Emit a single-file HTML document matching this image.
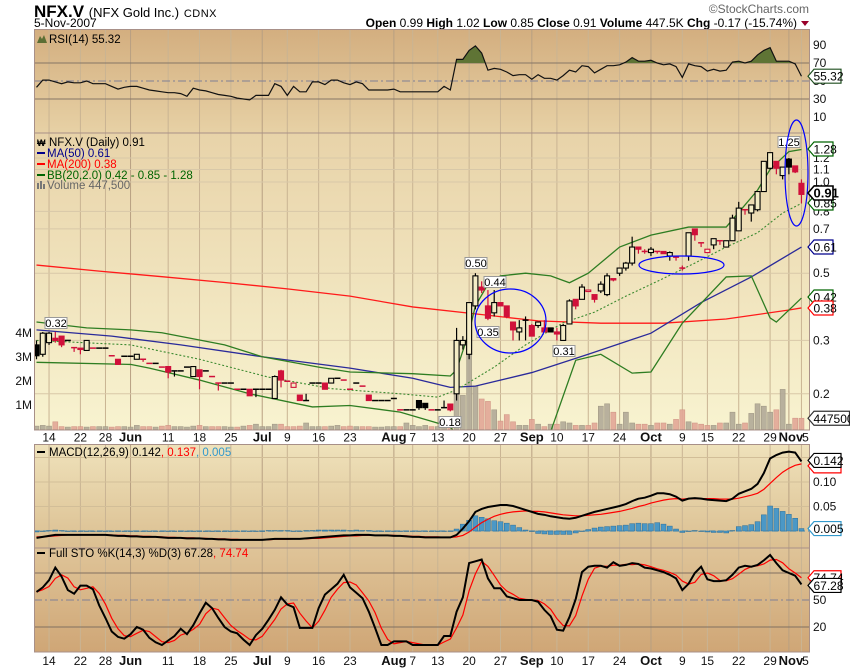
<!DOCTYPE html>
<html><head><meta charset="utf-8">
<style>
html,body{margin:0;padding:0;background:#fff;}
svg{display:block;font-family:"Liberation Sans",sans-serif;}
</style></head>
<body>
<svg id="chart" width="850" height="668" viewBox="0 0 850 668" xmlns="http://www.w3.org/2000/svg">
<defs>
<linearGradient id="gRsi" x1="0" y1="0" x2="0" y2="1"><stop offset="0" stop-color="#d3ae7f"/><stop offset="1" stop-color="#e7d1a5"/></linearGradient>
<linearGradient id="gPrice" x1="0" y1="0" x2="0" y2="1"><stop offset="0" stop-color="#e8d3a9"/><stop offset="1" stop-color="#f8f3d0"/></linearGradient>
<linearGradient id="gMacd" x1="0" y1="0" x2="0" y2="1"><stop offset="0" stop-color="#efe2bb"/><stop offset="1" stop-color="#dbbf91"/></linearGradient>
<linearGradient id="gSto" x1="0" y1="0" x2="0" y2="1"><stop offset="0" stop-color="#dfc498"/><stop offset="1" stop-color="#cfa676"/></linearGradient>
<clipPath id="cRsi"><rect x="34" y="29" width="776" height="104"/></clipPath>
<clipPath id="cRsiFill"><rect x="34" y="29" width="776" height="34"/></clipPath>
<clipPath id="cPrice"><rect x="34" y="133" width="776" height="297"/></clipPath>
<clipPath id="cMacd"><rect x="34" y="444" width="776" height="104"/></clipPath>
<clipPath id="cSto"><rect x="34" y="548" width="776" height="104"/></clipPath>
</defs>
<g>
<text x="34" y="17" font-size="17" font-weight="bold">NFX.V <tspan font-size="13" font-weight="normal">(NFX Gold Inc.)</tspan> <tspan font-size="11" font-weight="normal" letter-spacing="0.5">CDNX</tspan></text>
<text x="34" y="27" font-size="12">5-Nov-2007</text>
<text x="809" y="13" font-size="12" fill="#666" text-anchor="end">©StockCharts.com</text>
<text x="797" y="27" font-size="12" text-anchor="end"><tspan font-weight="bold">Open</tspan> 0.99 <tspan font-weight="bold">High</tspan> 1.02 <tspan font-weight="bold">Low</tspan> 0.85 <tspan font-weight="bold">Close</tspan> 0.91 <tspan font-weight="bold">Volume</tspan> 447.5K <tspan font-weight="bold">Chg</tspan> -0.17 (-15.74%)</text>
<polygon points="801,21 809,21 805,26" fill="#99002a"/>
</g>
<rect x="34" y="29" width="776" height="104" fill="url(#gRsi)"/>
<rect x="34" y="133" width="776" height="297" fill="url(#gPrice)"/>
<rect x="34" y="444" width="776" height="104" fill="url(#gMacd)"/>
<rect x="34" y="548" width="776" height="104" fill="url(#gSto)"/>
<g id="grid"></g>
<g id="rsiG" clip-path="url(#cRsi)"></g>
<g id="priceG" clip-path="url(#cPrice)"></g>
<g id="macdG" clip-path="url(#cMacd)"></g>
<g id="stoG" clip-path="url(#cSto)"></g>
<g id="frames" fill="none" stroke="#a89088" stroke-width="1">
<rect x="34.5" y="29.5" width="775" height="103.5"/>
<rect x="34.5" y="133" width="775" height="297"/>
<rect x="34.5" y="444.5" width="775" height="103.5"/>
<rect x="34.5" y="548" width="775" height="104"/>
</g>
<g id="annot"></g>
<g id="axes" font-size="12" fill="#111"></g>
<g id="legends" font-size="11.5">
<g><polygon points="37,43 40,36 42,39 44,35 47,43" fill="#5b6e34"/><text x="49" y="43">RSI(14) 55.32</text></g>
<g>
<text x="37" y="146" font-size="9" font-weight="bold">₩</text><text x="49" y="146">NFX.V (Daily) 0.91</text>
<line x1="37" y1="153" x2="45" y2="153" stroke="#00008b" stroke-width="2"/><text x="47" y="157" fill="#00008b">MA(50) 0.61</text>
<line x1="37" y1="164" x2="45" y2="164" stroke="#ff0000" stroke-width="2"/><text x="47" y="168" fill="#ff0000">MA(200) 0.38</text>
<line x1="37" y1="175" x2="45" y2="175" stroke="#006400" stroke-width="2"/><text x="47" y="179" fill="#006400">BB(20,2.0) 0.42 - 0.85 - 1.28</text>
<rect x="37" y="183" width="2" height="6" fill="#777"/><rect x="40" y="181" width="2" height="8" fill="#777"/><rect x="43" y="184" width="2" height="5" fill="#777"/><text x="47" y="189" fill="#666">Volume 447,500</text>
</g>
<g><line x1="37" y1="452" x2="45" y2="452" stroke="#000" stroke-width="2"/><text x="49" y="456">MACD(12,26,9) 0.142<tspan fill="#ff0000">, 0.137</tspan><tspan fill="#3399cc">, 0.005</tspan></text></g>
<g><line x1="37" y1="553" x2="45" y2="553" stroke="#000" stroke-width="2"/><text x="49" y="557">Full STO %K(14,3) %D(3) 67.28<tspan fill="#ff0000">, 74.74</tspan></text></g>
</g>
<g id="tags" font-size="12"></g>
</svg>
<script>
// ---- data ----
const opens=[.29,.27,.295,.305,.31,.30,.285,.283,.278,.283, .283,.283,.268,.26,.266,.266,.26,.261,.252,.252, .245,.246,.238,.238,.245,.228,.24,.238,.228,.217, .217,.217,.207,.207,.207,.207,.207,.207,.193,.238, .22,.21,.198,.19,.217,.217,.217,.217,.225,.222, .207,.217,.212,.198,.19,.19,.19,.193,.177,.177, .177,.19,.186,.177,.177,.18,.185,.20,.29,.27, .39,.45,.39,.37,.40,.39,.345,.32,.35,.336, .336,.33,.33,.32,.30,.34,.41,.41,.435,.425, .437,.425,.48,.50,.52,.54,.61,.59,.585,.59, .59,.57,.565,.52,.57,.70,.63,.585,.62,.64, .61,.64,.69,.81,.79,.81,.93,1.11,1.17,1.05, 1.19,1.13,.99];
const highs=[.30,.32,.32,.32,.31,.30,.285,.283,.30,.283, .283,.283,.268,.26,.266,.266,.27,.261,.252,.252, .245,.246,.238,.238,.245,.246,.24,.238,.228,.217, .217,.217,.207,.207,.207,.207,.207,.207,.23,.24, .22,.217,.198,.20,.217,.217,.217,.225,.225,.222, .207,.217,.212,.198,.19,.19,.19,.193,.177,.177, .177,.19,.186,.177,.177,.19,.185,.33,.31,.40, .50,.47,.44,.44,.40,.39,.345,.35,.36,.34, .345,.35,.33,.33,.34,.41,.41,.46,.44,.425, .47,.50,.48,.52,.545,.66,.61,.60,.61,.59, .59,.59,.565,.53,.68,.70,.63,.60,.65,.64, .64,.78,.86,.81,.84,.93,1.17,1.25,1.17,1.12, 1.20,1.13,1.02];
const lows=[.26,.265,.29,.295,.285,.30,.275,.27,.277,.283, .283,.283,.267,.25,.266,.266,.26,.255,.252,.252, .245,.225,.228,.238,.245,.228,.207,.238,.228,.205, .217,.217,.207,.207,.197,.195,.207,.207,.193,.21, .22,.21,.19,.19,.217,.217,.207,.217,.225,.222, .207,.217,.212,.19,.19,.19,.19,.193,.177,.177, .177,.177,.177,.177,.177,.18,.175,.19,.28,.26, .38,.43,.35,.36,.39,.355,.30,.30,.30,.31, .33,.32,.32,.30,.30,.34,.38,.41,.435,.40, .43,.42,.47,.49,.51,.53,.58,.58,.57,.58, .58,.55,.55,.51,.55,.64,.61,.585,.60,.62, .61,.64,.69,.78,.74,.80,.93,1.10,1.06,1.02, 1.06,1.07,.85];
const closes=[.267,.317,.317,.30,.29,.30,.284,.28,.30,.283, .283,.283,.267,.25,.266,.266,.27,.26,.252,.252, .245,.236,.238,.238,.245,.246,.228,.238,.228,.217, .217,.217,.207,.207,.197,.207,.207,.207,.228,.222, .22,.217,.19,.19,.217,.217,.207,.225,.225,.222, .207,.217,.212,.19,.19,.19,.19,.193,.177,.177, .177,.18,.18,.177,.177,.18,.177,.30,.30,.40, .49,.44,.355,.40,.39,.36,.325,.33,.35,.31, .345,.32,.32,.315,.336,.405,.39,.45,.44,.41, .46,.49,.475,.52,.54,.61,.60,.59,.60,.59, .58,.585,.565,.52,.68,.67,.63,.60,.65,.64, .64,.76,.82,.81,.84,.93,1.17,1.25,1.11,1.12, 1.12,1.08,.91];
const volumes=[.12,.15,.12,.3,.1,.08,.1,.1,.08,.1, .1,.1,.08,.1,.1,.08,.15,.1,.1,.08, .12,.15,.1,.1,.08,.12,.15,.1,.1,.1, .1,.08,.08,.12,.15,.2,.1,.1,.2,.2, .1,.1,.12,.25,.1,.1,.1,.12,.15,.1, .12,.1,.1,.1,.08,.08,.1,.1,.1,.25, .15,.1,.15,.1,.1,.1,.3,1.6,1.4,3.4, 1.8,1.25,1.15,.8,.33,.6,.3,.15,.15,.4, .2,.1,.2,.2,.3,.25,.15,.15,.15,.25, .95,1.05,.7,.2,.7,.25,.2,.2,.15,.25, .25,.2,.4,.8,.3,.25,.2,.15,.15,.25, .25,.7,.2,.25,.65,1.05,.95,.7,.8,1.65, .2,.45,.4475];
const ma50Idx=[0,12,23,36,50,60,66,70,79,88,98,106,114,122];
const ma50Val=[.325,.31,.29,.265,.243,.225,.21,.212,.235,.27,.317,.40,.486,.61];
const ma200Idx=[0,10,20,30,40,50,60,70,80,90,100,110,120,122];
const ma200Val=[.532,.508,.487,.466,.444,.42,.387,.367,.348,.342,.342,.353,.378,.384];
const bbUpIdx=[0,8,15,20,30,36,45,50,60,66,67,69,70,72,74,78,82,85,88,93,98,104,110,115,117,120,122];
const bbUpVal=[.345,.33,.325,.318,.29,.265,.245,.236,.233,.229,.24,.32,.39,.46,.49,.50,.49,.465,.50,.61,.668,.71,.71,.94,1.1,1.26,1.28];
const bbMidIdx=[0,15,26,37,47,58,64,67,73,78,84,89,94,99,105,110,115,119,122];
const bbMidVal=[.30,.29,.26,.227,.208,.20,.195,.206,.245,.29,.343,.372,.42,.47,.54,.61,.68,.79,.85];
const bbLoIdx=[0,15,18,26,34,44,50,58,64,66,68,72,76,80,82,86,90,95,98,103,110,114,117,118,122];
const bbLoVal=[.254,.25,.243,.222,.20,.181,.183,.174,.16,.155,.14,.11,.09,.11,.15,.258,.27,.234,.236,.342,.486,.49,.356,.345,.414];
const rsiVals=[43,51,51,49,47,49,48,48,50,47, 47,47,44,41,43,44,44,42,40,39, 38,37,37,36,33,42,40,39,37,35, 34,33,31,30,29,34,34,34,47,44, 34,44,38,38,49,49,46,51,51,48, 46,49,47,40,40,40,40,41,38,38, 38,38,38,38,38,44,40,74,74,84, 89,81,62,64,63,60,56,57,57,52, 57,53,53,51,56,62,60,67,66,59, 63,67,67,68,71,76,72,72,73,70, 68,69,66,54,69,67,66,61,63,61, 62,71,72,70,72,79,84,87,72,72, 72,69,55.32];
const macdVals=[-.014,-.012,-.010,-.008,-.008,-.008,-.008,-.008,-.008,-.008, -.008,-.008,-.009,-.010,-.010,-.011,-.011,-.012,-.012,-.012, -.013,-.014,-.014,-.014,-.015,-.015,-.015,-.016,-.016,-.017, -.017,-.018,-.018,-.018,-.018,-.018,-.018,-.017,-.016,-.016, -.016,-.016,-.016,-.015,-.014,-.013,-.012,-.011,-.010,-.009, -.009,-.008,-.008,-.008,-.009,-.009,-.009,-.010,-.010,-.011, -.012,-.012,-.013,-.013,-.013,-.013,-.013,-.008,.005,.02, .039,.045,.049,.051,.053,.053,.051,.047,.043,.039, .035,.033,.030,.028,.026,.025,.027,.031,.035,.039, .042,.045,.048,.051,.055,.061,.066,.068,.072,.077, .077,.075,.07,.062,.066,.067,.066,.064,.063,.062, .061,.066,.076,.081,.086,.096,.118,.148,.155,.160, .162,.16,.142];
const signalVals=[-.012,-.012,-.011,-.010,-.009,-.008,-.008,-.008,-.008,-.008, -.008,-.008,-.008,-.009,-.009,-.010,-.010,-.011,-.011,-.012, -.012,-.013,-.013,-.014,-.014,-.014,-.015,-.015,-.016,-.016, -.016,-.017,-.017,-.018,-.018,-.018,-.018,-.018,-.017,-.017, -.017,-.016,-.016,-.016,-.015,-.015,-.014,-.013,-.012,-.011, -.010,-.010,-.009,-.009,-.009,-.009,-.009,-.009,-.010,-.010, -.011,-.011,-.012,-.012,-.012,-.013,-.013,-.012,-.009,-.002, .008,.017,.024,.030,.034,.037,.039,.040,.041,.040, .040,.039,.037,.035,.033,.032,.031,.031,.032,.033, .034,.036,.038,.040,.043,.046,.050,.053,.057,.060, .063,.065,.066,.065,.066,.066,.066,.066,.066,.065, .065,.065,.067,.070,.073,.077,.085,.097,.109,.120, .128,.134,.137];
const stoK=[59,64,72,86,76,61,57,66,66,62, 44,30,15,9,7,12,20,17,8,3, 0,5,10,18,12,22,35,47,41,30, 20,15,13,6,0,11,18,28,39,53, 45,42,19,19,19,41,56,62,68,78, 64,58,52,37,19,0,0,4,4,4, 0,0,0,0,0,10,10,37,53,91, 93,95,74,63,63,54,52,50,50,50, 48,39,32,17,16,31,51,81,87,88, 88,86,92,88,89,91,90,86,85,83, 81,78,74,61,68,80,87,73,71,71, 72,78,86,88,87,89,94,100,91,83, 80,77,67.28];
const xLabelIdx=[2,7,11,15,21,26,31,36,40,45,50,57,60,64,69,74,79,83,88,93,98,103,107,112,117,120,122];
const xLabelText=['14','22','28','Jun','11','18','25','Jul','9','16','23','Aug','7','13','20','27','Sep','10','17','24','Oct','9','15','22','29','Nov','5'];
const xLabelBold=[0,0,0,1,0,0,0,1,0,0,0,1,0,0,0,0,1,0,0,0,1,0,0,0,0,1,0];
const priceTicks=[0.2,0.3,0.5,0.7,0.8,1.0,1.1,1.2];
const priceTickText=['0.2','0.3','0.5','0.7','0.8','1.0','1.1','1.2'];
const volTicks=[1,2,3,4];
const volTickText=['1M','2M','3M','4M'];
const rsiTicks=[90,70,50,30,10];
const macdTicks=[0.15,0.10,0.05];
const macdTickText=['0.15','0.10','0.05'];
const stoTicks=[50,20];

// ---- scales ----
const X=i=>36.5+6.27*i;
const PY=p=>182-303*Math.log10(p);
const VY=v=>429-v*24;
const RY=r=>126-0.9*r;
const MY=m=>531-m*490;
const SY=s=>645-0.9*s;

const NS='http://www.w3.org/2000/svg';
function mk(t,a,p){const e=document.createElementNS(NS,t);for(const k in a)e.setAttribute(k,a[k]);p.appendChild(e);return e;}
const grid=document.getElementById('grid');
const rsiG=document.getElementById('rsiG');
const priceG=document.getElementById('priceG');
const macdG=document.getElementById('macdG');
const stoG=document.getElementById('stoG');
const axes=document.getElementById('axes');
const tags=document.getElementById('tags');
const annot=document.getElementById('annot');

xLabelIdx.forEach((d,k)=>{
  const x=X(d);
  [[29,133],[133,430],[444,548],[548,652]].forEach(r=>{
    const l=mk('line',{x1:x,x2:x,y1:r[0],y2:r[1],stroke:xLabelBold[k]?'#b8a082':'#c9b493','stroke-width':1},grid);
    
    
  });
  let tx=x;
  if(xLabelText[k]==='Nov')tx=x+2;
  if(xLabelText[k]==='5'&&d===122)tx=x+4;
  [437.5,661].forEach(y=>{
    const t=mk('text',{x:tx,y:y+4,'text-anchor':'middle','font-weight':xLabelBold[k]?'bold':'normal','font-size':xLabelBold[k]?13:12},axes);
    t.textContent=xLabelText[k];
    
    
  });
});
priceTicks.forEach((p,k)=>{
  const y=PY(p);
  const l=mk('line',{x1:34,x2:810,y1:y,y2:y,stroke:'#d8c8a8','stroke-width':1},grid);
  
  
  const t=mk('text',{x:813,y:y+4},axes);
  t.textContent=priceTickText[k];
  
  
});
volTicks.forEach((v,k)=>{
  const y=VY(v);
  const t=mk('text',{x:32,y:y+4,'text-anchor':'end'},axes);
  t.textContent=volTickText[k];
  
  
});
rsiTicks.forEach(r=>{
  const y=RY(r);
  if(r===70||r===30){const l=mk('line',{x1:34,x2:810,y1:y,y2:y,stroke:'#857565','stroke-width':1},grid);
    
    }
  if(r===50){const l=mk('line',{x1:34,x2:810,y1:y,y2:y,stroke:'#7f7f95','stroke-width':1,'stroke-dasharray':'8,3,2,3'},grid);
    
    }
  const t=mk('text',{x:813,y:y+4},axes);
  t.textContent=String(r);
  
  
});
const rsiPts=rsiVals.map((r,i)=>X(i)+','+RY(r)).join(' ');
const rf=mk('polygon',{points:rsiPts+' '+X(122)+','+RY(70)+' '+X(0)+','+RY(70),fill:'#5f7435','clip-path':'url(#cRsiFill)'},rsiG);


const rl=mk('polyline',{points:rsiPts,fill:'none',stroke:'#111','stroke-width':1.2},rsiG);



volumes.forEach((v,i)=>{
  const up=i===0||closes[i]>=closes[i-1];
  const b=mk('rect',{x:X(i)-2.5,y:VY(v),width:5,height:429.5-VY(v),fill:up?'#b2aa98':'#e2a797',stroke:up?'#9a917f':'#cf8f80','stroke-width':0.6,opacity:0.9},priceG);
  
  
});
function line(idx,val,color,w,dash){
  const pts=idx.map((d,k)=>X(d)+','+PY(val[k])).join(' ');
  const a={points:pts,fill:'none',stroke:color,'stroke-width':w};
  if(dash)a['stroke-dasharray']=dash;
  return mk('polyline',a,priceG);
}
const l200=line(ma200Idx,ma200Val,'#ff1a1a',1.3,null);


const l50=line(ma50Idx,ma50Val,'#2a2a9a',1.3,null);


const lbu=line(bbUpIdx,bbUpVal,'#2e7d22',1.3,null);


const lbl=line(bbLoIdx,bbLoVal,'#2e7d22',1.3,null);


const lbm=line(bbMidIdx,bbMidVal,'#3c8a30',1.1,'2,2');



closes.forEach((c,i)=>{
  const o=opens[i],x=X(i);
  const col=(i>0&&c<closes[i-1])?'#d0103a':'#000';
  const w=mk('line',{x1:x,x2:x,y1:PY(highs[i]),y2:PY(lows[i]),stroke:col,'stroke-width':1.2},priceG);
  
  
  const top=PY(Math.max(o,c)),bot=PY(Math.min(o,c));
  if(bot-top<1.2){
    const d=mk('line',{x1:x-3,x2:x+3,y1:PY(c),y2:PY(c),stroke:col,'stroke-width':1.5},priceG);
    
    
  } else {
    const filled=c<o;
    const r=mk('rect',{x:x-2.5,y:top,width:5,height:bot-top,fill:filled?col:'#f4ecc6',stroke:col,'stroke-width':1.1},priceG);
    
    
  }
});
[[510.5,321,35.5,32],[681.5,265,42.5,9],[796.5,173,11.5,53]].forEach(e=>{
  const el=mk('ellipse',{cx:e[0],cy:e[1],rx:e[2],ry:e[3],fill:'none',stroke:'#0000ff','stroke-width':1.2},annot);
  
  
});
[[476,263,'0.50'],[495,282,'0.44'],[488,332,'0.35'],[564,351,'0.31'],[789,142,'1.25'],[450,422,'0.18'],[56,323,'0.32']].forEach(c=>{
  const r=mk('rect',{x:c[0]-11,y:c[1]-5.5,width:22,height:11,fill:'#fff',stroke:'#999','stroke-width':1},priceG);
  
  
  const t=mk('text',{x:c[0],y:c[1]+4,'text-anchor':'middle','font-size':11},priceG);
  t.textContent=c[2];
  
  
});

macdTicks.forEach((m,k)=>{
  const y=MY(m);
  const l=mk('line',{x1:34,x2:810,y1:y,y2:y,stroke:'#d2be98','stroke-width':1},grid);
  
  
  const t=mk('text',{x:813,y:y+4},axes);
  t.textContent=macdTickText[k];
  
  
});
const z=mk('line',{x1:34,x2:810,y1:MY(0),y2:MY(0),stroke:'#3a8cc0','stroke-width':1,'stroke-dasharray':'6,3'},macdG);


macdVals.forEach((m,i)=>{
  const h=m-signalVals[i];
  const y0=MY(0),y1=MY(h);
  const b=mk('rect',{x:X(i)-2.5,y:Math.min(y0,y1),width:5,height:Math.max(Math.abs(y1-y0),0.5),fill:'#4b98c6',stroke:'#2c6f9a','stroke-width':0.5},macdG);
  
  
});
const sg=mk('polyline',{points:signalVals.map((m,i)=>X(i)+','+MY(m)).join(' '),fill:'none',stroke:'#ff0000','stroke-width':1.2},macdG);


const ml=mk('polyline',{points:macdVals.map((m,i)=>X(i)+','+MY(m)).join(' '),fill:'none',stroke:'#000','stroke-width':2},macdG);



[80,20].forEach(s=>{
  const l=mk('line',{x1:34,x2:810,y1:SY(s),y2:SY(s),stroke:'#807060','stroke-width':1},grid);
  
  
});
const sm=mk('line',{x1:34,x2:810,y1:SY(50),y2:SY(50),stroke:'#7f7f95','stroke-width':1,'stroke-dasharray':'8,3,2,3'},grid);


stoTicks.forEach(s=>{
  const t=mk('text',{x:813,y:SY(s)+4},axes);
  t.textContent=String(s);
  
  
});
const stoD=stoK.map((k,i)=>{const a=stoK.slice(Math.max(0,i-2),i+1);return a.reduce((s,v)=>s+v,0)/a.length;});
const dl=mk('polyline',{points:stoD.map((d,i)=>X(i)+','+SY(d)).join(' '),fill:'none',stroke:'#ff0000','stroke-width':1.2},stoG);


const kl=mk('polyline',{points:stoK.map((k,i)=>X(i)+','+SY(k)).join(' '),fill:'none',stroke:'#000','stroke-width':2},stoG);



function tag(y,txt,col,w,bold){
  const g=mk('g',{},tags);
  mk('polygon',{points:`808,${y} 814,${y-7} ${Math.min(808+w,849.5)},${y-7} ${Math.min(808+w,849.5)},${y+7} 814,${y+7}`,fill:'#fff',stroke:col,'stroke-width':bold?1.6:1.2},g);
  const t=mk('text',{x:813.5,y:y+4.5,fill:'#000','font-weight':bold?'bold':'normal','font-size':bold?13:12},g);
  t.textContent=txt;
  return g;
}
const t1=tag(RY(55.32),'55.32','#1f4f1f',33,false);


const t2=tag(149,'1.28','#006400',25,false);


const t4=tag(203,'0.85','#006400',25,false);


const t3=tag(193,'0.91','#000',25,true);


const t5=tag(247,'0.61','#00008b',25,false);


const t6=tag(297,'0.42','#006400',25,false);


const t7=tag(308,'0.38','#ff0000',25,false);


const t8=tag(VY(0.4475),'447500','#333',42,false);


const t9=tag(MY(0.137)+2,'','#ff0000',33,false);


const t10=tag(MY(0.142)-1,'0.142','#000',33,false);


const t11=tag(MY(0.005),'0.005','#3399cc',33,false);


const t12=tag(SY(74.74),'74.74','#ff0000',33,false);


const t13=tag(SY(67.28)+1,'67.28','#000',33,false);


</script>
</body></html>
